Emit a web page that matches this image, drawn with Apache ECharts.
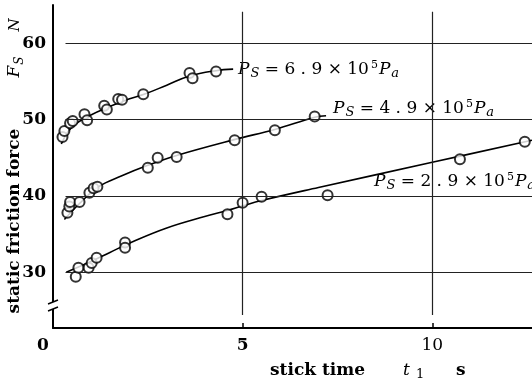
<!DOCTYPE html>
<html><head><meta charset="utf-8">
<script src="https://cdn.jsdelivr.net/npm/echarts@6/dist/echarts.min.js"></script>
<style>html,body{margin:0;padding:0;background:#fff}#c{width:532px;height:385px}</style>
</head><body><div id="c"></div>
<script>
// measured points (stick time s, static friction force N)
const pts69 = [[0.25,47.7],[0.3,48.5],[0.45,49.5],[0.52,49.8],[0.83,50.7],[0.9,49.9],[1.35,51.8],[1.42,51.3],[1.72,52.7],[1.82,52.6],[2.38,53.3],[3.6,56.1],[3.68,55.4],[4.3,56.3]];
const pts49 = [[0.38,37.8],[0.43,38.6],[0.45,39.2],[0.7,39.2],[0.96,40.4],[1.07,41.0],[1.17,41.2],[2.5,43.7],[2.76,45.0],[3.26,45.1],[4.79,47.3],[5.85,48.6],[6.9,50.4]];
const pts29 = [[0.6,29.4],[0.67,30.6],[0.94,30.6],[1.02,31.2],[1.15,31.9],[1.9,33.9],[1.9,33.2],[4.6,37.6],[5.0,39.1],[5.5,39.9],[7.24,40.1],[10.73,44.8],[12.44,47.1]];
// fitted curves drawn through the points
const fit69 = [[0.22,46.8],[0.5,49.0],[1.0,50.6],[1.5,51.7],[2.0,52.7],[2.4,53.3],[3.0,54.5],[3.6,55.7],[4.3,56.4],[4.75,56.6]];
const fit49 = [[0.3,36.9],[0.7,39.0],[1.2,41.2],[1.8,42.6],[2.5,44.0],[3.26,45.3],[4.8,47.4],[5.85,48.7],[6.9,50.3],[7.2,50.5]];
const fit29 = [[0.35,30.0],[1.0,31.4],[1.5,32.6],[2.1,34.0],[3.0,35.8],[4.0,37.3],[4.6,38.1],[5.0,38.7],[5.5,39.4],[7.0,41.1],[10.0,44.4],[12.63,47.3]];
const yTicks = [30,40,50,60];
const xTicks = [0,5,10];
const gridY = [30,40,50,60];
const gridX = [5,10];
const labels = ['6.9','4.9','2.9'];

const SERIF = "'DejaVu Serif','Liberation Serif',serif";
const chart = echarts.init(document.getElementById('c'));
const X0 = 0.33, X1 = 12.63, YT = 64.1, YB = 24.4;
const gridLines = [];
gridY.forEach(v => gridLines.push([{coord:[X0,v]},{coord:[X1,v]}]));
gridX.forEach(v => gridLines.push([{coord:[v,YT]},{coord:[v,YB]}]));

function pLabel(v){
  return '{p|P}{s|S}{t| = ' + v.split('').join(' ') + ' × 10}{sup|5}{p|P}{s|a}';
}
const rich = {
  p:{fontFamily:SERIF,fontStyle:'italic',fontSize:17,fill:'#000'},
  s:{fontFamily:SERIF,fontStyle:'italic',fontSize:13,fill:'#000',padding:[8,0,0,1]},
  t:{fontFamily:SERIF,fontSize:17,fill:'#000'},
  sup:{fontFamily:SERIF,fontSize:11,fill:'#000',padding:[0,1,9,2]}
};
const lineS = (d) => ({type:'line',data:d,smooth:0.4,symbol:'none',silent:true,lineStyle:{color:'#000',width:1.6},z:2});
const ptS = (d) => ({type:'scatter',data:d,symbol:'circle',symbolSize:10,silent:true,itemStyle:{color:'#fff',borderColor:'#000',borderWidth:2},z:3});

chart.setOption({
  animation:false,
  backgroundColor:'#fff',
  grid:{left:53,top:5,width:479,height:323,containLabel:false},
  xAxis:{type:'value',min:0,max:12.63,interval:5,
    axisLine:{lineStyle:{color:'#000',width:2}},
    axisTick:{show:true,inside:true,length:5,lineStyle:{color:'#000',width:1.5}},
    splitLine:{show:false},
    axisLabel:{showMaxLabel:false,margin:9,color:'#000',fontFamily:SERIF,fontSize:17,
      formatter:v => v===0?'{z|0}':(v===5?'{b|5}':'{n|'+v+'}'),
      rich:{z:{fontFamily:SERIF,fontSize:17,fontWeight:'bold',padding:[0,20,0,0]},
            b:{fontFamily:SERIF,fontSize:17,fontWeight:'bold'},
            n:{fontFamily:SERIF,fontSize:17}}}},
  yAxis:{type:'value',min:22.7,max:65,
    axisLine:{lineStyle:{color:'#000',width:2}},
    axisTick:{show:false},
    splitLine:{show:false},
    axisLabel:{customValues:yTicks,margin:7,color:'#000',fontFamily:SERIF,fontSize:17,fontWeight:'bold'}},
  series:[
    {type:'line',data:[],silent:true,markLine:{silent:true,symbol:'none',label:{show:false},
      lineStyle:{color:'#222',width:1.2,type:'solid'},data:gridLines},z:1},
    lineS(fit69),lineS(fit49),lineS(fit29),
    ptS(pts69),ptS(pts49),ptS(pts29)
  ],
  graphic:[
    {type:'text',left:238,top:60,style:{text:pLabel(labels[0]),rich:rich,fontFamily:SERIF,fontSize:17}},
    {type:'text',left:333,top:99,style:{text:pLabel(labels[1]),rich:rich,fontFamily:SERIF,fontSize:17}},
    {type:'text',left:374,top:172,style:{text:pLabel(labels[2]),rich:rich,fontFamily:SERIF,fontSize:17}},
    // y axis break mark
    {type:'rect',shape:{x:49,y:302,width:8,height:7},style:{fill:'#fff'},z:100},
    {type:'line',shape:{x1:48,y1:304,x2:58,y2:300},style:{stroke:'#000',lineWidth:1.5},z:101},
    {type:'line',shape:{x1:48,y1:311,x2:58,y2:307},style:{stroke:'#000',lineWidth:1.5},z:101},
    // y axis title
    {type:'text',x:15,y:221,rotation:Math.PI/2,style:{text:'static friction force',fontFamily:SERIF,fontSize:17,fontWeight:'bold',fill:'#000',align:'center',verticalAlign:'middle'}},
    {type:'text',x:15,y:67,rotation:Math.PI/2,style:{text:'{p|F}{s|S}',rich:{p:{fontFamily:SERIF,fontStyle:'italic',fontSize:17,fill:'#000'},s:{fontFamily:SERIF,fontStyle:'italic',fontSize:12,fill:'#000',padding:[9,0,0,1]}},align:'center',verticalAlign:'middle'}},
    {type:'text',x:15,y:25,rotation:Math.PI/2,style:{text:'N',fontFamily:SERIF,fontStyle:'italic',fontSize:15,fill:'#000',align:'center',verticalAlign:'middle'}},
    // x axis title
    {type:'text',left:270,top:362,style:{text:'stick time',fontFamily:SERIF,fontSize:17,fontWeight:'bold',fill:'#000'}},
    {type:'text',left:403,top:362,style:{text:'{p|t}{s| 1}',rich:{p:{fontFamily:SERIF,fontStyle:'italic',fontSize:17,fill:'#000'},s:{fontFamily:SERIF,fontSize:13,fill:'#000',padding:[8,0,0,2]}}}},
    {type:'text',left:456,top:362,style:{text:'s',fontFamily:SERIF,fontSize:17,fontWeight:'bold',fill:'#000'}}
  ]
});
</script></body></html>
